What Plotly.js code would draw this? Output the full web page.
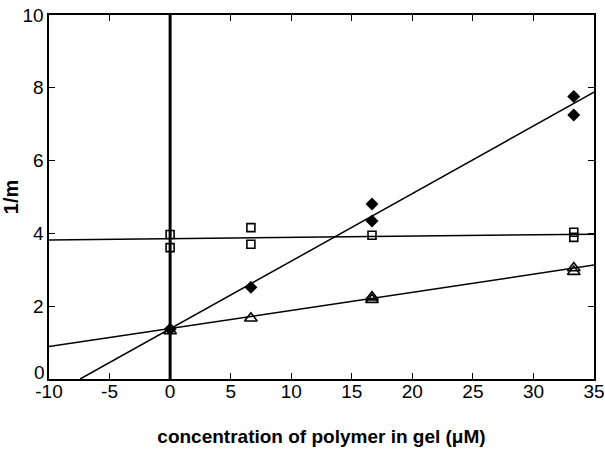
<!DOCTYPE html>
<html>
<head>
<meta charset="utf-8">
<script src="https://cdn.plot.ly/plotly-3.0.1.min.js"></script>
<style>html,body{margin:0;padding:0;background:#fff;}#chart{width:605px;height:451px;}</style>
</head>
<body>
<div id="chart"></div>
<script>
// Data
const diamondX = [0, 6.67, 16.67, 16.67, 33.33, 33.33];
const diamondY = [1.37, 2.52, 4.81, 4.34, 7.76, 7.25];

const squareX = [0, 0, 6.67, 6.67, 16.67, 33.33, 33.33];
const squareY = [3.97, 3.61, 4.16, 3.70, 3.95, 4.03, 3.89];

const triangleX = [0, 6.67, 16.67, 16.67, 33.33, 33.33];
const triangleY = [1.32, 1.67, 2.25, 2.18, 3.05, 2.95];

// Fitted lines (endpoints)
const diamondFitX = [-7.43, 35];
const diamondFitY = [0, 7.88];
const squareFitX = [-10, 35];
const squareFitY = [3.82, 3.98];
const triangleFitX = [-10, 35];
const triangleFitY = [0.89, 3.13];

// Vertical reference line at x = 0
const zeroLineX = [0, 0];
const zeroLineY = [0, 10];

const xTicks = [-10, -5, 0, 5, 10, 15, 20, 25, 30, 35];
const yTicks = [0, 2, 4, 6, 8, 10];
// the "0" of the y axis is drawn raised above the corner in the reference
const yTickText = yTicks.map(v => v === 0 ? '' : String(v));

const lineStyle = {color: '#000', width: 1.5};
const traces = [
  {x: zeroLineX, y: zeroLineY, mode: 'lines', line: {color: '#000', width: 3}, hoverinfo: 'skip'},
  {x: diamondFitX, y: diamondFitY, mode: 'lines', line: lineStyle},
  {x: squareFitX, y: squareFitY, mode: 'lines', line: lineStyle},
  {x: triangleFitX, y: triangleFitY, mode: 'lines', line: lineStyle},
  {x: squareX, y: squareY, mode: 'markers',
   marker: {symbol: 'square-open', size: 8, color: '#000', line: {width: 1.6, color: '#000'}}},
  {x: triangleX, y: triangleY, mode: 'markers',
   marker: {symbol: 'triangle-up-open', size: 11, color: '#000', line: {width: 1.6, color: '#000'}}},
  {x: diamondX, y: diamondY, mode: 'markers',
   marker: {symbol: 'diamond', size: 10, color: '#000'}}
];

const font = {family: '"Liberation Sans", Arial, sans-serif', color: '#000'};
const layout = {
  width: 605, height: 451,
  margin: {l: 49, r: 11, t: 15, b: 72},
  paper_bgcolor: '#fff', plot_bgcolor: '#fff',
  showlegend: false,
  font: font,
  xaxis: {
    range: [-10, 35], tickvals: xTicks, ticktext: xTicks.map(String),
    showgrid: false, zeroline: false, automargin: false,
    showline: true, linecolor: '#000', linewidth: 1.6, mirror: 'ticks',
    ticks: 'inside', ticklen: 6, tickcolor: '#000', tickwidth: 1.2,
    ticklabelstandoff: -5,
    tickfont: {family: font.family, size: 19, color: '#000'},
    title: {text: '<b>concentration of polymer in gel (μM)</b>', standoff: 28,
            font: {family: font.family, size: 19, color: '#000'}}
  },
  yaxis: {
    range: [0, 10], tickvals: yTicks, ticktext: yTickText,
    showgrid: false, zeroline: false, automargin: false,
    showline: true, linecolor: '#000', linewidth: 1.6, mirror: 'ticks',
    ticks: 'inside', ticklen: 6, tickcolor: '#000', tickwidth: 1.2,
    tickfont: {family: font.family, size: 19, color: '#000'},
    title: {text: '<b>1/m</b>', standoff: 0,
            font: {family: font.family, size: 20, color: '#000'}}
  },
  annotations: [{
    xref: 'paper', x: 0, xanchor: 'right', xshift: -2,
    yref: 'y', y: yTicks[0], yanchor: 'middle', yshift: 7,
    text: String(yTicks[0]), showarrow: false,
    font: {family: font.family, size: 19, color: '#000'}
  }]
};

Plotly.newPlot('chart', traces, layout, {staticPlot: true, displayModeBar: false});
</script>
</body>
</html>
